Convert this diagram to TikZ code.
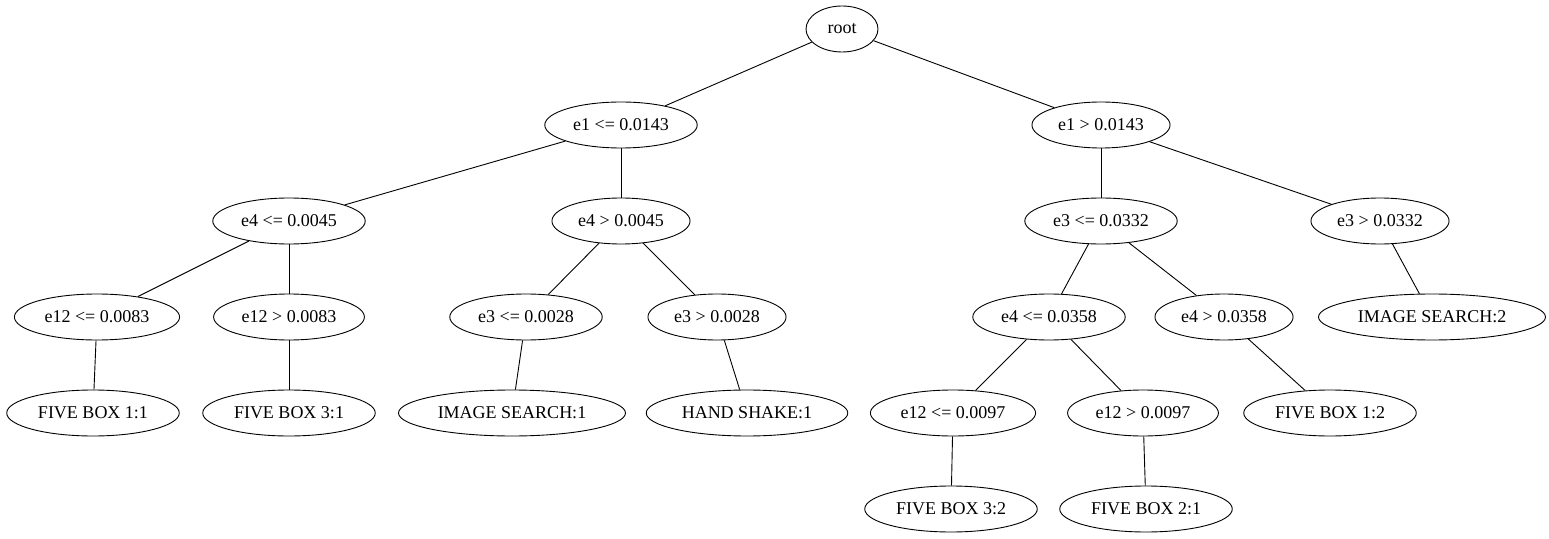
\documentclass[tikz,border=0pt]{standalone}
\usepackage{fontspec}
\setmainfont{Liberation Serif}
\usetikzlibrary{shapes.geometric}
\begin{document}
\begin{tikzpicture}[x=1bp,y=-1bp,line width=0.9bp,
    tnode/.style={ellipse,draw,minimum height=46bp,minimum width=72bp,inner xsep=6bp,inner ysep=0pt,
      font=\fontsize{18bp}{21bp}\selectfont}]
    \useasboundingbox (0,0) rectangle (1549,539);
    % splits
    \node[tnode] (root) at (842,29) {root};
    \node[tnode] (e1le) at (621,125) {e1 <= 0.0143};
    \node[tnode] (e1gt) at (1101,125) {e1 > 0.0143};
    \node[tnode] (e4le) at (289,221) {e4 <= 0.0045};
    \node[tnode] (e4gt) at (621,221) {e4 > 0.0045};
    \node[tnode] (e3leb) at (1101,221) {e3 <= 0.0332};
    \node[tnode] (e3gtb) at (1380,221) {e3 > 0.0332};
    \node[tnode] (e12le) at (97,317) {e12 <= 0.0083};
    \node[tnode] (e12gt) at (289,317) {e12 > 0.0083};
    \node[tnode] (e3le) at (526,317) {e3 <= 0.0028};
    \node[tnode] (e3gt) at (717,317) {e3 > 0.0028};
    \node[tnode] (e4leb) at (1049,317) {e4 <= 0.0358};
    \node[tnode] (e4gtb) at (1224,317) {e4 > 0.0358};
    \node[tnode] (e12leb) at (953,413) {e12 <= 0.0097};
    \node[tnode] (e12gtb) at (1143,413) {e12 > 0.0097};
    % leaves
    \node[tnode] (imgb) at (1432,317) {IMAGE SEARCH:2};
    \node[tnode] (fb11) at (93,413) {FIVE BOX 1:1};
    \node[tnode] (fb31) at (289,413) {FIVE BOX 3:1};
    \node[tnode] (img) at (512,413) {IMAGE SEARCH:1};
    \node[tnode] (hs) at (747,413) {HAND SHAKE:1};
    \node[tnode] (fb12) at (1330,413) {FIVE BOX 1:2};
    \node[tnode] (fb32) at (951,509) {FIVE BOX 3:2};
    \node[tnode] (fb21) at (1146,509) {FIVE BOX 2:1};
    % edges
    \draw (root) -- (e1le);
    \draw (root) -- (e1gt);
    \draw (e1le) -- (e4le);
    \draw (e1le) -- (e4gt);
    \draw (e1gt) -- (e3leb);
    \draw (e1gt) -- (e3gtb);
    \draw (e4le) -- (e12le);
    \draw (e4le) -- (e12gt);
    \draw (e4gt) -- (e3le);
    \draw (e4gt) -- (e3gt);
    \draw (e3leb) -- (e4leb);
    \draw (e3leb) -- (e4gtb);
    \draw (e3gtb) -- (imgb);
    \draw (e12le) -- (fb11);
    \draw (e12gt) -- (fb31);
    \draw (e3le) -- (img);
    \draw (e3gt) -- (hs);
    \draw (e4leb) -- (e12leb);
    \draw (e4leb) -- (e12gtb);
    \draw (e4gtb) -- (fb12);
    \draw (e12leb) -- (fb32);
    \draw (e12gtb) -- (fb21);
\end{tikzpicture}
\end{document}
